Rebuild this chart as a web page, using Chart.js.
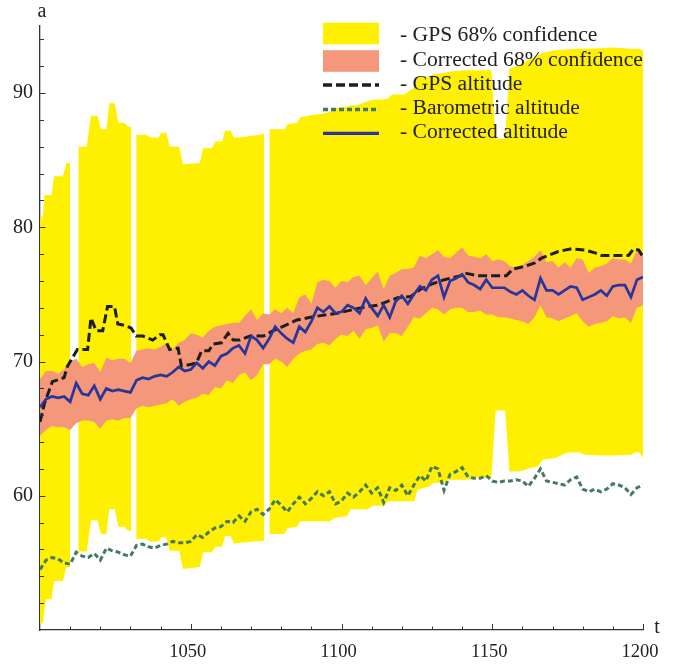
<!DOCTYPE html>
<html>
<head>
<meta charset="utf-8">
<script src="https://cdn.jsdelivr.net/npm/chart.js@4.4.0/dist/chart.umd.min.js"></script>
<style>
  html, body { margin: 0; padding: 0; background: #fff; }
  #wrap { position: relative; width: 678px; height: 665px; }
</style>
</head>
<body>
<div id="wrap"><canvas id="altitude-chart"></canvas></div>
<script>
const YELLOW = "#ffef00";
const SALMON = "#f4977a";
const GPS_BLACK = "#1e1e1e";
const BARO_GREEN = "#467a60";
const CORR_BLUE = "#28359b";
const AXIS = "#333333";
const TEXT = "#222222";
const FONT = "'Liberation Serif', 'Times New Roman', serif";

/* ---------------- data ---------------- */

// regular samples, every 2 s
const SAMPLE_T = [
  1000, 1002, 1004, 1006, 1008, 1010, 1012, 1014, 1016, 1018,
  1020, 1022, 1024, 1026, 1028, 1030, 1032, 1034, 1036, 1038,
  1040, 1042, 1044, 1046, 1048, 1050, 1052, 1054, 1056, 1058,
  1060, 1062, 1064, 1066, 1068, 1070, 1072, 1074, 1076, 1078,
  1080, 1082, 1084, 1086, 1088, 1090, 1092, 1094, 1096, 1098,
  1100, 1102, 1104, 1106, 1108, 1110, 1112, 1114, 1116, 1118,
  1120, 1122, 1124, 1126, 1128, 1130, 1132, 1134, 1136, 1138,
  1140, 1142, 1144, 1146, 1148, 1150, 1152, 1154, 1156, 1158,
  1160, 1162, 1164, 1166, 1168, 1170, 1172, 1174, 1176, 1178,
  1180, 1182, 1184, 1186, 1188, 1190, 1192, 1194, 1196, 1198,
  1200,
];

const CORR_ALT = [
  66.6, 67.2, 67.4, 67.3, 67.4, 67.0, 68.4, 67.6, 67.5, 68.2,
  67.2, 68.0, 67.8, 67.9, 67.8, 67.7, 68.6, 68.8, 68.7, 68.9,
  69.0, 68.9, 69.2, 69.6, 69.3, 69.4, 69.9, 69.5, 70.0, 69.7,
  70.4, 70.6, 71.0, 71.2, 70.6, 71.9, 71.6, 71.0, 71.7, 72.6,
  72.1, 71.7, 71.4, 72.6, 72.2, 73.0, 74.0, 73.7, 74.1, 73.6,
  73.7, 74.2, 74.0, 73.6, 74.7, 74.0, 73.4, 74.2, 73.3, 74.5,
  74.9, 74.3, 75.0, 75.6, 75.3, 76.1, 76.4, 74.8, 76.0, 76.2,
  76.5, 75.9, 75.7, 75.4, 76.1, 75.5, 75.5, 75.5, 75.2, 75.0,
  75.3, 74.9, 74.6, 76.2, 75.3, 75.3, 75.0, 75.3, 75.6, 75.5,
  74.6, 74.8, 75.0, 75.3, 74.9, 75.6, 75.7, 75.7, 74.8, 76.1,
  76.3,
];

const CORR_HI = [
  68.7, 69.3, 69.3, 69.1, 69.4, 70.0, 70.2, 69.6, 69.8, 69.9,
  69.2, 70.3, 70.1, 70.2, 70.2, 69.9, 70.8, 70.9, 71.0, 70.9,
  71.1, 71.4, 70.9, 71.4, 71.6, 72.1, 72.0, 71.8, 72.3, 72.6,
  72.7, 72.8, 72.9, 72.9, 73.4, 73.9, 73.1, 73.6, 73.5, 73.9,
  73.6, 74.0, 73.6, 74.8, 75.0, 74.3, 75.9, 76.1, 76.0, 75.5,
  76.0, 75.9, 76.3, 76.4, 75.7, 76.2, 76.7, 75.4, 76.4, 76.6,
  76.9, 76.9, 77.0, 77.9, 77.7, 78.0, 78.3, 77.8, 77.7, 78.1,
  78.5, 77.9, 77.8, 77.7, 78.0, 77.5, 77.6, 77.5, 77.1, 77.0,
  77.2, 77.5, 77.8, 78.3, 77.4, 77.5, 77.0, 77.4, 77.0, 77.7,
  77.6, 76.6, 77.0, 77.1, 77.3, 77.7, 77.6, 77.6, 77.3, 78.3,
  77.9,
];

const CORR_LO = [
  64.5, 64.9, 65.2, 65.1, 65.1, 64.9, 65.4, 65.6, 65.6, 65.5,
  65.0, 65.6, 65.7, 65.6, 65.8, 65.8, 66.5, 66.7, 66.6, 66.7,
  66.8, 66.9, 67.2, 66.7, 67.0, 67.2, 67.3, 67.6, 67.5, 68.1,
  68.0, 68.6, 68.4, 69.0, 69.2, 68.6, 69.0, 69.8, 69.8, 70.2,
  70.0, 69.6, 70.2, 70.6, 70.8, 70.9, 71.3, 71.4, 71.2, 71.7,
  72.0, 71.9, 72.3, 71.7, 72.4, 72.5, 72.7, 71.5, 72.1, 72.1,
  71.9, 72.6, 73.3, 73.2, 73.6, 74.0, 73.9, 73.5, 73.9, 74.0,
  74.0, 73.7, 73.7, 73.8, 73.5, 73.5, 73.3, 73.3, 73.2, 73.1,
  73.0, 72.8, 73.3, 74.2, 73.3, 73.2, 73.0, 73.2, 73.4, 73.6,
  73.0, 72.6, 72.8, 72.9, 73.0, 73.4, 73.2, 73.3, 72.9, 74.0,
  74.2,
];

const BARO_ALT = [
  54.5, 55.2, 55.4, 55.3, 55.0, 54.9, 55.8, 55.5, 55.4, 55.7,
  55.2, 56.1, 55.9, 55.8, 55.6, 55.5, 56.3, 56.4, 56.2, 56.1,
  56.3, 56.4, 56.6, 56.5, 56.5, 56.6, 57.1, 56.9, 57.3, 57.6,
  57.7, 58.1, 58.0, 58.5, 58.1, 58.8, 59.0, 58.6, 59.0, 59.7,
  59.3, 58.8, 59.4, 59.9, 59.4, 59.8, 60.3, 60.0, 60.3, 59.4,
  59.6, 60.2, 59.9, 60.3, 60.8, 60.2, 60.6, 59.5, 60.6, 60.4,
  60.8, 60.0, 60.8, 61.5, 61.1, 62.2, 62.0, 60.4, 61.6, 61.8,
  62.1, 61.4, 61.3, 61.3, 61.5, 61.1, 61.0, 61.1, 61.1, 61.2,
  61.1, 60.7, 61.3, 62.0, 61.1, 61.0, 60.9, 60.8, 61.2, 61.4,
  60.5, 60.3, 60.5, 60.3, 60.5, 60.9, 60.8, 60.6, 60.1, 60.6,
  60.8,
];

// GPS fixes arrive irregularly
const GPS_ALT_T = [
  1000, 1001.5, 1004.1, 1008.0, 1009.1, 1012.4, 1015.8, 1016.9, 1018.6, 1020.8,
  1022.4, 1024.7, 1025.8, 1028.0, 1030.2, 1031.9, 1034.1, 1037.4, 1039.7, 1040.8,
  1043.0, 1045.8, 1046.9, 1050.2, 1051.9, 1053.6, 1056.0, 1057.4, 1060.2, 1062.4,
  1064.1, 1066.3, 1069.7, 1074.1, 1077.4, 1081.9, 1085.2, 1089.7, 1095.2, 1098.6,
  1106.3, 1111.9, 1118.6, 1123.0, 1126.3, 1129.7, 1134.1, 1139.7, 1140.8, 1145.2,
  1154.7, 1156.9, 1160.8, 1164.1, 1166.3, 1168.6, 1171.9, 1176.3, 1180.8, 1184.1,
  1186.3, 1195.2, 1196.9, 1198.6, 1200.0,
];
const GPS_ALT = [
  65.5, 66.9, 68.5, 68.8, 69.65, 70.9, 70.9, 73.25, 72.3, 72.3,
  74.1, 74.1, 72.8, 72.7, 72.5, 71.9, 71.9, 71.6, 72.0, 72.0,
  70.9, 71.0, 69.65, 69.8, 69.9, 70.8, 70.8, 71.3, 71.4, 72.1,
  71.6, 71.6, 71.9, 71.9, 72.3, 72.75, 73.1, 73.3, 73.5, 73.6,
  74.0, 74.2, 74.75, 74.85, 75.4, 75.75, 76.1, 76.4, 76.6, 76.4,
  76.4, 76.9, 77.1, 77.35, 77.7, 77.9, 78.2, 78.4, 78.3, 78.1,
  77.9, 77.9, 78.4, 78.3, 77.8,
];

// GPS 68% band; null = no fix (gap)
const GPS_BAND_T = [
  1000.0, 1001.0, 1001.5, 1002.0, 1003.8, 1004.7, 1007.6, 1008.8, 1010.0, 1011.0,
  1012.7, 1015.5, 1016.9, 1019.1, 1020.2, 1022.0, 1023.0, 1024.8, 1026.0, 1028.0,
  1029.2, 1030.3, 1031.0, 1031.9, 1035.2, 1036.5, 1039.4, 1040.2, 1041.9, 1043.0,
  1046.2, 1047.4, 1053.0, 1054.1, 1057.0, 1058.2, 1060.4, 1061.4, 1063.2, 1064.3,
  1066.3, 1071.0, 1074.3, 1075.2, 1076.1, 1081.0, 1082.2, 1085.2, 1086.4, 1089.7,
  1093.0, 1096.3, 1097.6, 1101.9, 1103.0, 1105.2, 1108.6, 1110.6, 1114.1, 1115.5,
  1116.8, 1120.8, 1124.1, 1125.2, 1129.0, 1130.4, 1134.1, 1135.4, 1140.8, 1146.3,
  1149.7, 1151.1, 1154.3, 1155.7, 1159.1, 1162.4, 1165.2, 1166.9, 1170.8, 1174.7,
  1178.6, 1180.8, 1186.3, 1189.7, 1196.3, 1197.4, 1198.8, 1199.7, 1201.0,
];
const GPS_HI = [
  80.6, 80.9, 82.4, 82.4, 82.4, 83.8, 83.8, 84.8, 84.8, null,
  86.0, 86.0, 88.3, 88.3, 87.3, 87.3, 89.25, 89.25, 87.8, 87.8,
  87.5, 87.5, null, 86.9, 86.9, 86.7, 86.7, 87.05, 87.05, 86.0,
  86.0, 84.7, 84.8, 85.9, 85.9, 86.4, 86.4, 87.2, 87.2, 86.7,
  86.7, 86.85, 86.95, null, 87.3, 87.3, 87.7, 87.8, 88.2, 88.35,
  88.45, 88.6, 88.85, 89.0, 89.1, 89.1, 89.4, 89.5, 89.55, 89.6,
  89.9, 89.9, 90.4, 91.2, 91.2, 91.4, 91.5, 91.6, 91.7, 91.7,
  91.7, 86.6, 86.6, 91.8, 92.1, 92.5, 92.8, 93.0, 93.2, 93.25,
  93.3, 93.3, 93.35, 93.4, 93.3, 93.3, 93.3, 93.2, 93.2,
];
const GPS_LO = [
  50.5, 50.5, 51.6, 52.3, 52.3, 53.65, 53.65, 54.7, 54.7, null,
  55.85, 55.85, 58.15, 58.15, 57.15, 57.15, 59.0, 59.0, 57.7, 57.7,
  57.4, 57.4, null, 56.8, 56.8, 56.6, 56.6, 56.9, 56.9, 55.9,
  55.9, 54.55, 54.7, 55.8, 55.8, 56.2, 56.2, 57.0, 57.0, 56.45,
  56.5, 56.6, 56.65, null, 57.15, 57.15, 57.6, 57.7, 58.1, 58.1,
  58.1, 58.1, 58.35, 58.5, 59.0, 59.0, 59.0, 59.25, 59.25, 59.6,
  59.6, 59.6, 59.6, 60.45, 60.7, 60.95, 60.95, 61.2, 61.2, 61.4,
  61.3, 66.35, 66.35, 61.8, 61.8, 62.05, 62.2, 62.7, 62.8, 63.2,
  63.25, 63.05, 63.0, 63.0, 63.05, 63.25, 63.25, 62.9, 62.8,
];

const X_LABELS = [1050, 1100, 1150, 1200];
const Y_LABELS = [60, 70, 80, 90];
const LEGEND_LABELS = [
  "- GPS 68% confidence",
  "- Corrected 68% confidence",
  "- GPS altitude",
  "- Barometric altitude",
  "- Corrected altitude",
];

/* ---------------- helpers ---------------- */

const points = (xs, ys) => xs.map((x, i) => ({ x, y: ys[i] }));

const bandEdge = (xs, ys, color, fill, order) => ({
  data: points(xs, ys),
  borderColor: "rgba(0,0,0,0)",
  backgroundColor: color,
  borderWidth: 0,
  fill,
  order,
});

/* ---------------- decorations: inward ticks, axis names, legend ---------------- */

const decorations = {
  id: "decorations",
  afterDraw(chart) {
    const { ctx, chartArea: area, scales: { x, y } } = chart;
    ctx.save();

    ctx.strokeStyle = AXIS;
    ctx.lineWidth = 1;
    ctx.beginPath();
    for (const t of x.ticks) {
      if (t.value <= x.min) continue;
      const px = Math.round(x.getPixelForValue(t.value)) + 0.5;
      const len = X_LABELS.includes(t.value) ? 6 : 3.5;
      ctx.moveTo(px, area.bottom);
      ctx.lineTo(px, area.bottom - len);
    }
    for (const t of y.ticks) {
      if (t.value <= y.min) continue;
      const py = Math.round(y.getPixelForValue(t.value)) + 0.5;
      const len = Y_LABELS.includes(t.value) ? 5.5 : 4;
      ctx.moveTo(area.left, py);
      ctx.lineTo(area.left + len, py);
    }
    ctx.stroke();

    ctx.fillStyle = TEXT;
    ctx.font = `20px ${FONT}`;
    ctx.textAlign = "center";
    ctx.textBaseline = "alphabetic";
    ctx.fillText("a", area.left + 2, 17);
    ctx.fillText("t", 657, 633);

    // legend (swatches take their style from the datasets)
    const sources = [0, 2, 4, 5, 6];
    const swatchY = [33.5, 61, 85, 109.5, 133.3];
    const textY = [40.7, 66, 90, 114, 137.7];
    const sx0 = 323, sx1 = 379;
    ctx.font = `21.6px ${FONT}`;
    ctx.textAlign = "left";
    LEGEND_LABELS.forEach((label, i) => {
      const ds = chart.data.datasets[sources[i]];
      if (i < 2) {
        ctx.fillStyle = ds.backgroundColor;
        ctx.fillRect(sx0, swatchY[i] - 10.8, sx1 - sx0, 21.6);
      } else {
        ctx.strokeStyle = ds.borderColor;
        ctx.lineWidth = ds.borderWidth + 0.5;
        ctx.setLineDash(ds.borderDash || []);
        ctx.beginPath();
        ctx.moveTo(sx0, swatchY[i]);
        ctx.lineTo(sx1, swatchY[i]);
        ctx.stroke();
        ctx.setLineDash([]);
      }
      ctx.fillStyle = TEXT;
      ctx.fillText(label, 400, textY[i]);
    });

    ctx.restore();
  },
};

/* ---------------- chart ---------------- */

new Chart(document.getElementById("altitude-chart"), {
  type: "line",
  data: {
    datasets: [
      { ...bandEdge(GPS_BAND_T, GPS_HI, YELLOW, "+1", 6), clip: { left: 0, top: 0, right: 4, bottom: 0 } },
      { ...bandEdge(GPS_BAND_T, GPS_LO, YELLOW, false, 7), clip: { left: 0, top: 0, right: 4, bottom: 0 } },
      bandEdge(SAMPLE_T, CORR_HI, SALMON, "+1", 4),
      bandEdge(SAMPLE_T, CORR_LO, SALMON, false, 5),
      {
        data: points(GPS_ALT_T, GPS_ALT),
        borderColor: GPS_BLACK,
        borderWidth: 3,
        borderDash: [9, 4],
        fill: false,
        order: 3,
      },
      {
        data: points(SAMPLE_T, BARO_ALT),
        borderColor: BARO_GREEN,
        borderWidth: 3,
        borderDash: [5, 3],
        fill: false,
        order: 2,
      },
      {
        data: points(SAMPLE_T, CORR_ALT),
        borderColor: CORR_BLUE,
        borderWidth: 2.7,
        fill: false,
        order: 1,
      },
    ],
  },
  options: {
    responsive: true,
    maintainAspectRatio: false,
    devicePixelRatio: 1,
    animation: false,
    spanGaps: false,
    elements: {
      point: { radius: 0, hoverRadius: 0 },
      line: { tension: 0, borderJoinStyle: "miter" },
    },
    layout: { padding: { top: 26, right: 35, left: 0, bottom: 0 } },
    plugins: {
      legend: { display: false },
      tooltip: { enabled: false },
    },
    scales: {
      x: {
        type: "linear",
        min: 1000,
        max: 1200,
        grid: { display: false, drawTicks: false },
        border: { display: true, color: AXIS, width: 1.3 },
        ticks: {
          stepSize: 10,
          autoSkip: false,
          maxRotation: 0,
          padding: 11,
          labelOffset: -3,
          color: TEXT,
          font: { family: FONT, size: 18.5 },
          callback: (v) => (X_LABELS.includes(v) ? String(v) : ""),
        },
        afterFit: (scale) => { scale.height = 35; },
      },
      y: {
        type: "linear",
        min: 50,
        max: 95,
        grid: { display: false, drawTicks: false },
        border: { display: true, color: AXIS, width: 1.3 },
        ticks: {
          stepSize: 2,
          includeBounds: false,
          autoSkip: false,
          padding: 7,
          color: TEXT,
          font: { family: FONT, size: 20 },
          callback: (v) => (Y_LABELS.includes(v) ? String(v) : ""),
        },
        afterFit: (scale) => { scale.width = 40; },
      },
    },
  },
  plugins: [decorations],
});
</script>
</body>
</html>
